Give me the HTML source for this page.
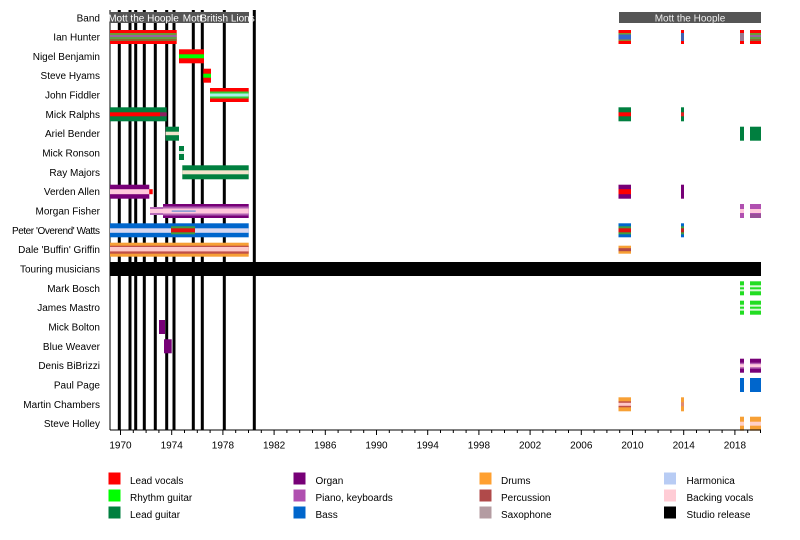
<!DOCTYPE html>
<html><head><meta charset="utf-8"><style>
html,body{margin:0;padding:0;background:#fff;}
svg{display:block;}
text{font-family:"Liberation Sans",Arial,sans-serif;font-size:10px;}
</style></head><body>
<svg width="800" height="540" xmlns="http://www.w3.org/2000/svg">
<rect width="800" height="540" fill="#fff"/>

<!-- left axis line -->
<rect x="109.5" y="10" width="1" height="420" fill="#000"/>

<!-- studio release lines -->
<g fill="#000">
<rect x="117.8" y="10" width="3" height="420"/>
<rect x="128.5" y="10" width="3" height="420"/>
<rect x="134.2" y="10" width="3" height="420"/>
<rect x="142.8" y="10" width="3" height="420"/>
<rect x="153.8" y="10" width="3" height="420"/>
<rect x="165.2" y="10" width="3" height="420"/>
<rect x="172.5" y="10" width="3" height="420"/>
<rect x="191.8" y="10" width="3" height="420"/>
<rect x="200.8" y="10" width="3" height="420"/>
<rect x="222.8" y="10" width="3" height="420"/>
<rect x="252.8" y="10" width="3" height="420"/>
</g>

<!-- Band row -->
<rect x="110" y="12" width="139" height="11" fill="#555"/>
<rect x="619" y="12" width="142" height="11" fill="#555"/>
<text x="143.5" y="21.3" fill="#fff" text-anchor="middle">Mott the Hoople</text>
<text x="192.5" y="21.3" fill="#fff" text-anchor="middle">Mott</text>
<text x="227.5" y="21.3" fill="#fff" text-anchor="middle">British Lions</text>
<text x="690" y="21.3" fill="#eee" text-anchor="middle">Mott the Hoople</text>

<!-- row labels -->
<g text-anchor="end" fill="#000">
<text x="100" y="21.3">Band</text>
<text x="100" y="40.5">Ian Hunter</text>
<text x="100" y="59.8">Nigel Benjamin</text>
<text x="100" y="79.2">Steve Hyams</text>
<text x="100" y="98.5">John Fiddler</text>
<text x="100" y="117.8">Mick Ralphs</text>
<text x="100" y="137.2">Ariel Bender</text>
<text x="100" y="156.5">Mick Ronson</text>
<text x="100" y="175.8">Ray Majors</text>
<text x="100" y="195.2">Verden Allen</text>
<text x="100" y="214.5">Morgan Fisher</text>
<text x="100" y="233.8" textLength="88" lengthAdjust="spacing">Peter 'Overend' Watts</text>
<text x="100" y="253.2">Dale 'Buffin' Griffin</text>
<text x="100" y="272.5">Touring musicians</text>
<text x="100" y="291.8">Mark Bosch</text>
<text x="100" y="311.2">James Mastro</text>
<text x="100" y="330.5">Mick Bolton</text>
<text x="100" y="349.8">Blue Weaver</text>
<text x="100" y="369.2">Denis BiBrizzi</text>
<text x="100" y="388.5">Paul Page</text>
<text x="100" y="407.8">Martin Chambers</text>
<text x="100" y="427.2">Steve Holley</text>
</g>

<!-- Ian Hunter -->
<g transform="translate(0,37)">
<rect x="110" y="-7" width="66.7" height="14" fill="#f00"/>
<rect x="110" y="-4" width="66.7" height="2" fill="#6f9a35"/>
<rect x="110" y="-2" width="66.7" height="2" fill="#9c62a0"/>
<rect x="110" y="0" width="66.7" height="2" fill="#5f9f45"/>
<rect x="110" y="2" width="66.7" height="2" fill="#8a6a35"/>
<rect x="618.5" y="-7" width="12.5" height="14" fill="#f00"/>
<rect x="618.5" y="-4" width="12.5" height="1.5" fill="#7a9a30"/>
<rect x="618.5" y="-2.5" width="12.5" height="5" fill="#3466cc"/>
<rect x="618.5" y="2.5" width="12.5" height="1.5" fill="#8a8a30"/>
<rect x="681" y="-7" width="3" height="14" fill="#f00"/>
<rect x="681" y="-4" width="3" height="8" fill="#4060b0"/>
<rect x="740" y="-7" width="4" height="14" fill="#f00"/>
<rect x="740" y="-4" width="4" height="8" fill="#9a7a90"/>
<rect x="750" y="-7" width="11" height="14" fill="#f00"/>
<rect x="750" y="-4" width="11" height="2" fill="#6f9a35"/>
<rect x="750" y="-2" width="11" height="2" fill="#9c62a0"/>
<rect x="750" y="0" width="11" height="2" fill="#5f9f45"/>
<rect x="750" y="2" width="11" height="2" fill="#8a6a35"/>
</g>

<!-- Nigel Benjamin -->
<g transform="translate(0,56.3)">
<rect x="179" y="-7" width="25" height="14" fill="#f00"/>
<rect x="179" y="-2" width="25" height="4" fill="#0f0"/>
</g>

<!-- Steve Hyams -->
<g transform="translate(0,75.7)">
<rect x="203.3" y="-7" width="7.7" height="14" fill="#f00"/>
<rect x="203.3" y="-2" width="7.7" height="4" fill="#0f0"/>
</g>

<!-- John Fiddler -->
<g transform="translate(0,95)">
<rect x="210" y="-7" width="38.7" height="14" fill="#f00"/>
<rect x="210" y="-3.5" width="38.7" height="7" fill="#3c3"/>
<rect x="210" y="-1.5" width="38.7" height="3" fill="#a8f0e8"/>
</g>

<!-- Mick Ralphs -->
<g transform="translate(0,114.3)">
<rect x="110" y="-7" width="56.7" height="14" fill="#007f3f"/>
<rect x="110" y="-2" width="50" height="4" fill="#f00"/>
<rect x="160" y="-2" width="6.7" height="4" fill="#902060"/>
<rect x="618.5" y="-7" width="12.5" height="14" fill="#007f3f"/>
<rect x="618.5" y="-2" width="12.5" height="4" fill="#f00"/>
<rect x="681" y="-7" width="3" height="14" fill="#007f3f"/>
<rect x="681" y="-2" width="3" height="4" fill="#e02020"/>
</g>

<!-- Ariel Bender -->
<g transform="translate(0,133.7)">
<rect x="165.7" y="-7" width="13.3" height="14" fill="#007f3f"/>
<rect x="165.7" y="-2" width="13.3" height="3.5" fill="#f0e4cc"/>
<rect x="740" y="-7" width="4" height="14" fill="#007f3f"/>
<rect x="750" y="-7" width="11" height="14" fill="#007f3f"/>
</g>

<!-- Mick Ronson -->
<g transform="translate(0,153)">
<rect x="179" y="-7" width="5" height="14" fill="#007f3f"/>
<rect x="179" y="-2" width="5" height="3" fill="#e6efe6"/>
</g>

<!-- Ray Majors -->
<g transform="translate(0,172.3)">
<rect x="182.3" y="-7" width="66.4" height="14" fill="#007f3f"/>
<rect x="182.3" y="-2" width="66.4" height="4" fill="#f0e4cc"/>
</g>

<!-- Verden Allen -->
<g transform="translate(0,191.7)">
<rect x="110" y="-7" width="39.3" height="14" fill="#770077"/>
<rect x="110" y="-2.5" width="39.3" height="5" fill="#ffc8dc"/>
<rect x="149.3" y="-2.5" width="3.4" height="5" fill="#f00"/>
<rect x="618.5" y="-7" width="12.5" height="14" fill="#770077"/>
<rect x="618.5" y="-2.5" width="12.5" height="5" fill="#f00"/>
<rect x="681" y="-7" width="3" height="14" fill="#770077"/>
</g>

<!-- Morgan Fisher -->
<g transform="translate(0,211)">
<rect x="150" y="-4" width="13" height="8" fill="#b86ab8"/>
<rect x="150" y="-2" width="13" height="4" fill="#ffc8dc"/>
<rect x="163" y="-7" width="85.7" height="14" fill="#770077"/>
<rect x="163" y="-4.5" width="85.7" height="9" fill="#b060b0"/>
<rect x="163" y="-2.5" width="85.7" height="5" fill="#ffc8dc"/>
<rect x="171.7" y="-0.5" width="24" height="1.2" fill="#6090d0"/>
<rect x="740" y="-7" width="4" height="14" fill="#b050b0"/>
<rect x="740" y="-2" width="4" height="4" fill="#ffc8dc"/>
<rect x="750" y="-7" width="11" height="14" fill="#b050b0"/>
<rect x="750" y="-2" width="11" height="4" fill="#ffc8dc"/>
<rect x="750" y="3" width="11" height="4" fill="#985098"/>
</g>

<!-- Peter Watts -->
<g transform="translate(0,230.3)">
<rect x="110" y="-7" width="138.7" height="14" fill="#0066cc"/>
<rect x="110" y="-2" width="138.7" height="4.5" fill="#d8d8f0"/>
<rect x="171" y="-4" width="24" height="8" fill="#40a040"/>
<rect x="171" y="-2" width="24" height="4" fill="#e01010"/>
<rect x="618.5" y="-7" width="12.5" height="14" fill="#0066cc"/>
<rect x="618.5" y="-4" width="12.5" height="8" fill="#40a040"/>
<rect x="618.5" y="-2" width="12.5" height="4" fill="#e01010"/>
<rect x="681" y="-7" width="3" height="14" fill="#0066cc"/>
<rect x="681" y="-4" width="3" height="8" fill="#40a040"/>
<rect x="681" y="-2" width="3" height="4" fill="#c02020"/>
</g>

<!-- Dale Griffin -->
<g transform="translate(0,249.7)">
<rect x="110" y="-7" width="138.7" height="14" fill="#f7a035"/>
<rect x="110" y="-4" width="138.7" height="8" fill="#c05048"/>
<rect x="110" y="-2.7" width="138.7" height="4.4" fill="#ffc8c8"/>
<rect x="618.5" y="-4" width="12.5" height="8" fill="#f7a035"/>
<rect x="618.5" y="-1.5" width="12.5" height="3" fill="#b04848"/>
</g>

<!-- Touring musicians -->
<rect x="110" y="262" width="651" height="14" fill="#000"/>

<!-- Mark Bosch -->
<g transform="translate(0,288.3)">
<rect x="740" y="-7" width="4" height="14" fill="#2d2"/>
<rect x="740" y="-3" width="4" height="2" fill="#d8f8d8"/>
<rect x="740" y="1" width="4" height="2" fill="#d8f8d8"/>
<rect x="750" y="-7" width="11" height="14" fill="#2d2"/>
<rect x="750" y="-3" width="11" height="2" fill="#d8f8d8"/>
<rect x="750" y="1" width="11" height="2" fill="#d8f8d8"/>
</g>

<!-- James Mastro -->
<g transform="translate(0,307.7)">
<rect x="740" y="-7" width="4" height="14" fill="#2d2"/>
<rect x="740" y="-3" width="4" height="2" fill="#d8f8d8"/>
<rect x="740" y="1" width="4" height="2" fill="#d8f8d8"/>
<rect x="750" y="-7" width="11" height="14" fill="#2d2"/>
<rect x="750" y="-3" width="11" height="2" fill="#d8f8d8"/>
<rect x="750" y="1" width="11" height="2" fill="#d8f8d8"/>
</g>

<!-- Mick Bolton / Blue Weaver -->
<rect x="159" y="320" width="6" height="14" fill="#770077"/>
<rect x="164" y="339.3" width="7.7" height="14" fill="#770077"/>

<!-- Denis BiBrizzi -->
<g transform="translate(0,365.7)">
<rect x="740" y="-7" width="4" height="14" fill="#770077"/>
<rect x="740" y="-3" width="4" height="6" fill="#b060b0"/>
<rect x="740" y="-1.5" width="4" height="3" fill="#ffc8dc"/>
<rect x="750" y="-7" width="11" height="14" fill="#770077"/>
<rect x="750" y="-3" width="11" height="6" fill="#b060b0"/>
<rect x="750" y="-1.5" width="11" height="3" fill="#ffc8dc"/>
</g>

<!-- Paul Page -->
<rect x="740" y="378" width="4" height="14" fill="#0066cc"/>
<rect x="750" y="378" width="11" height="14" fill="#0066cc"/>

<!-- Martin Chambers -->
<g transform="translate(0,404.3)">
<rect x="618.5" y="-7" width="12.5" height="14" fill="#f7a035"/>
<rect x="618.5" y="-3" width="12.5" height="6" fill="#c05048"/>
<rect x="618.5" y="-1.5" width="12.5" height="3" fill="#ffc8c8"/>
<rect x="681" y="-7" width="3" height="14" fill="#f7a035"/>
<rect x="681" y="-2" width="3" height="4" fill="#e08a70"/>
</g>

<!-- Steve Holley -->
<g transform="translate(0,423.7)">
<rect x="740" y="-7" width="4" height="14" fill="#f7a035"/>
<rect x="740" y="-2" width="4" height="4" fill="#ffd0c8"/>
<rect x="750" y="-7" width="11" height="14" fill="#f7a035"/>
<rect x="750" y="-2" width="11" height="4" fill="#ffd0c8"/>
</g>

<!-- x axis -->
<rect x="110" y="429.5" width="651" height="1" fill="#000"/>
<path stroke="#000" stroke-width="1" fill="none" d="
M120.5 430v5 M133.3 430v3 M146.1 430v3 M158.9 430v3 M171.7 430v5 M184.5 430v3 M197.3 430v3 M210.1 430v3
M222.9 430v5 M235.7 430v3 M248.5 430v3 M261.3 430v3 M274.1 430v5 M286.9 430v3 M299.7 430v3 M312.5 430v3
M325.3 430v5 M338.1 430v3 M350.9 430v3 M363.7 430v3 M376.5 430v5 M389.3 430v3 M402.1 430v3 M414.9 430v3
M427.7 430v5 M440.5 430v3 M453.3 430v3 M466.1 430v3 M478.9 430v5 M491.7 430v3 M504.5 430v3 M517.3 430v3
M530.1 430v5 M542.9 430v3 M555.7 430v3 M568.5 430v3 M581.3 430v5 M594.1 430v3 M606.9 430v3 M619.7 430v3
M632.5 430v5 M645.3 430v3 M658.1 430v3 M670.9 430v3 M683.7 430v5 M696.5 430v3 M709.3 430v3 M722.1 430v3
M734.9 430v5 M747.7 430v3 M760.5 430v3"/>
<g text-anchor="middle" fill="#000">
<text x="120.5" y="448.5">1970</text>
<text x="171.7" y="448.5">1974</text>
<text x="222.9" y="448.5">1978</text>
<text x="274.1" y="448.5">1982</text>
<text x="325.3" y="448.5">1986</text>
<text x="376.5" y="448.5">1990</text>
<text x="427.7" y="448.5">1994</text>
<text x="478.9" y="448.5">1998</text>
<text x="530.1" y="448.5">2002</text>
<text x="581.3" y="448.5">2006</text>
<text x="632.5" y="448.5">2010</text>
<text x="683.7" y="448.5">2014</text>
<text x="734.9" y="448.5">2018</text>
</g>

<!-- legend -->
<g>
<rect x="108.5" y="472.5" width="12" height="12" fill="#f00"/>
<rect x="108.5" y="489.5" width="12" height="12" fill="#0f0"/>
<rect x="108.5" y="506.5" width="12" height="12" fill="#007f3f"/>
<rect x="293.5" y="472.5" width="12" height="12" fill="#770077"/>
<rect x="293.5" y="489.5" width="12" height="12" fill="#b050b0"/>
<rect x="293.5" y="506.5" width="12" height="12" fill="#0066cc"/>
<rect x="479.5" y="472.5" width="12" height="12" fill="#ffa030"/>
<rect x="479.5" y="489.5" width="12" height="12" fill="#b04a4a"/>
<rect x="479.5" y="506.5" width="12" height="12" fill="#b49ca2"/>
<rect x="664" y="472.5" width="12" height="12" fill="#b8ccf4"/>
<rect x="664" y="489.5" width="12" height="12" fill="#ffccd5"/>
<rect x="664" y="506.5" width="12" height="12" fill="#000"/>
</g>
<g fill="#000">
<text x="130" y="483.8">Lead vocals</text>
<text x="130" y="500.8">Rhythm guitar</text>
<text x="130" y="517.8">Lead guitar</text>
<text x="315.5" y="483.8">Organ</text>
<text x="315.5" y="500.8">Piano, keyboards</text>
<text x="315.5" y="517.8">Bass</text>
<text x="501" y="483.8">Drums</text>
<text x="501" y="500.8">Percussion</text>
<text x="501" y="517.8">Saxophone</text>
<text x="686.5" y="483.8">Harmonica</text>
<text x="686.5" y="500.8">Backing vocals</text>
<text x="686.5" y="517.8">Studio release</text>
</g>
</svg>
</body></html>
